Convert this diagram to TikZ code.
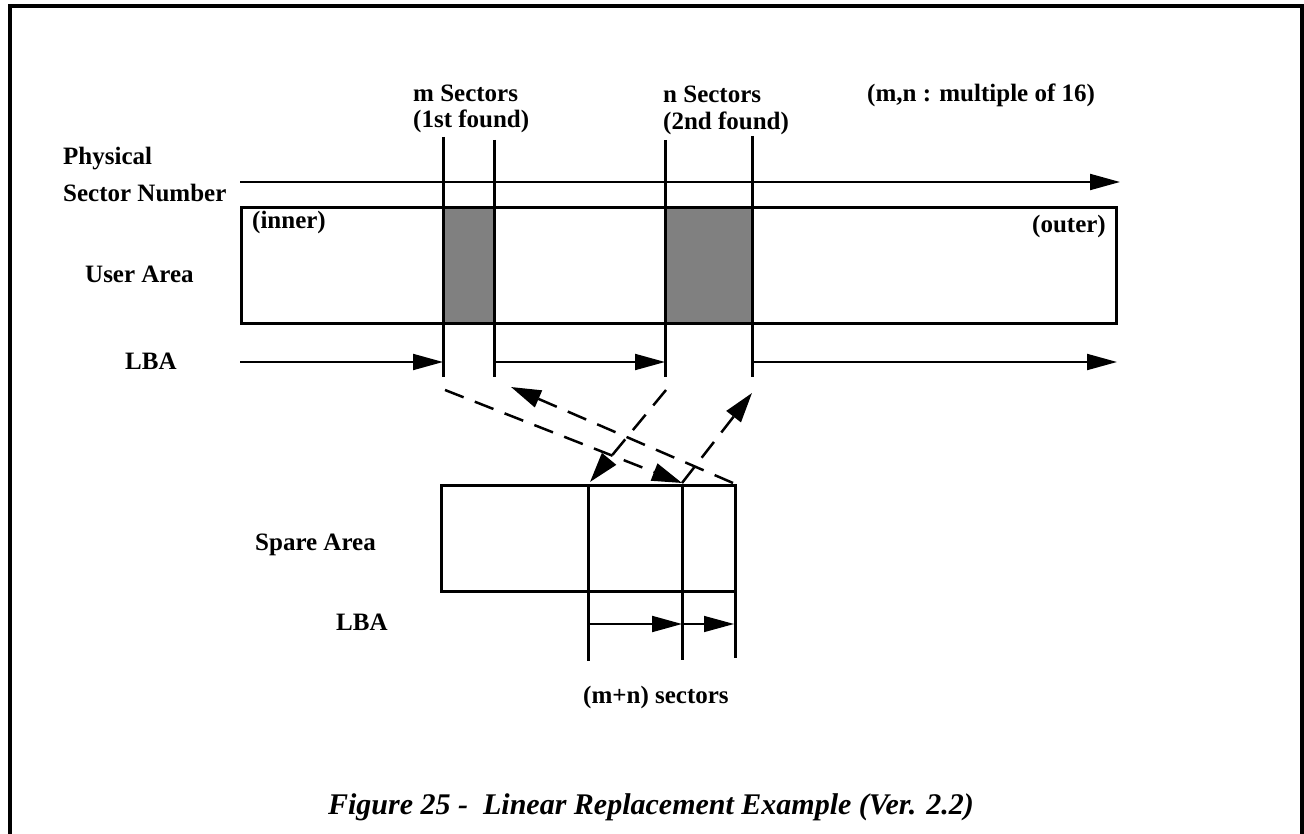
\documentclass[tikz,border=0pt]{standalone}
\usepackage{fontspec}
\setmainfont{Liberation Serif}
\usetikzlibrary{arrows.meta}
\begin{document}
\begin{tikzpicture}[x=1pt,y=-1pt,
  lbl/.style={font=\fontsize{25}{30}\selectfont\bfseries, inner sep=0pt, anchor=base west},
  figcaption/.style={font=\fontsize{30}{34}\selectfont\bfseries\itshape, inner sep=0pt, anchor=base},
  frameline/.style={line width=4pt},
  boxline/.style={line width=3pt},
  tickline/.style={line width=3pt},
  arr/.style={line width=2pt, -{Triangle[length=30pt,width=16pt]}},
  darr/.style={line width=2.5pt, dash pattern=on 20pt off 12pt, -{Triangle[length=30pt,width=18pt]}},
  greyfill/.style={fill=black!50}]
\useasboundingbox (0,0) rectangle (1304,834);
% outer frame (open at bottom)
\draw[frameline] (9.5,840) -- (9.5,6.5) -- (1301.5,6.5) -- (1301.5,840);

% labels
\node[lbl] (phys) at (63,165) {Physical};
\node[lbl] (secnum) at (63,202) {Sector Number};
\node[lbl] (user) at (85,283) {User Area};
\node[lbl] (lba1) at (125,370) {LBA};
\node[lbl] (spare) at (255,550) {Spare Area};
\node[lbl] (lba2) at (336,630) {LBA};
\node[lbl] (msec) at (413,102) {m Sectors};
\node[lbl] (mfound) at (413,128) {(1st found)};
\node[lbl] (nsec) at (663,103) {n Sectors};
\node[lbl] (nfound) at (663,130) {(2nd found)};
\node[lbl] (mult) at (867,102) {(m,n : multiple of 16)};
\node[lbl] (inner) at (252,229) {(inner)};
\node[lbl, anchor=base east] (outer) at (1106,233) {(outer)};
\node[lbl] (mn) at (583,703) {(m+n) sectors};
\node[figcaption] (caption) at (651,814) {Figure 25 -\ \ Linear Replacement Example (Ver. 2.2)};

% coordinates
\coordinate (pS) at (240,182);
\coordinate (pE) at (1120,182);
\coordinate (uTL) at (241,208);
\coordinate (uBR) at (1116,324);
\coordinate (a1) at (443,137);
\coordinate (a1b) at (443,377);
\coordinate (a2) at (494,140);
\coordinate (a2b) at (494,377);
\coordinate (b1) at (665,140);
\coordinate (b1b) at (665,377);
\coordinate (b2) at (752,136);
\coordinate (b2b) at (752,377);
\coordinate (l1s) at (240,362);
\coordinate (l1e) at (443,362);
\coordinate (l2s) at (494,362);
\coordinate (l2e) at (665,362);
\coordinate (l3s) at (752,362);
\coordinate (l3e) at (1117,362);
\coordinate (sTL) at (441,485);
\coordinate (sBR) at (735,591);
\coordinate (s1) at (588,485);
\coordinate (s1b) at (588,661);
\coordinate (s2) at (682,485);
\coordinate (s2b) at (682,660);
\coordinate (s3) at (735,591);
\coordinate (s3b) at (735,658);
\coordinate (sl1) at (588,624);
\coordinate (sl2) at (682,624);
\coordinate (sl3) at (734,624);

% user area
\draw[boxline, greyfill] (443,208) rectangle (494,324);
\draw[boxline, greyfill] (665,208) rectangle (752,324);
\draw[boxline] (uTL) rectangle (uBR);
\draw[arr] (pS) -- (pE);
\foreach \t/\b in {a1/a1b, a2/a2b, b1/b1b, b2/b2b} \draw[tickline] (\t) -- (\b);
\draw[arr] (l1s) -- (l1e);
\draw[arr] (l2s) -- (l2e);
\draw[arr] (l3s) -- (l3e);

% spare area
\draw[boxline] (sTL) rectangle (sBR);
\draw[tickline] (s1) -- (s1b);
\draw[tickline] (s2) -- (s2b);
\draw[tickline] (s3) -- (s3b);
\draw[arr] (sl1) -- (sl2);
\draw[arr, line width=1.5pt] (sl2) -- (sl3);

% dashed replacement arrows
\coordinate (d1s) at (445,390);
\coordinate (d1e) at (682,483);
\coordinate (d2s) at (733,483);
\coordinate (d2e) at (511,387);
\coordinate (d3s) at (666,390);
\coordinate (d3e) at (590,482);
\coordinate (d4s) at (682,483);
\coordinate (d4e) at (752,393);
\draw[darr] (d1s) -- (d1e);
\draw[darr] (d2s) -- (d2e);
\draw[darr] (d3s) -- (d3e);
\draw[darr] (d4s) -- (d4e);
\end{tikzpicture}
\end{document}
